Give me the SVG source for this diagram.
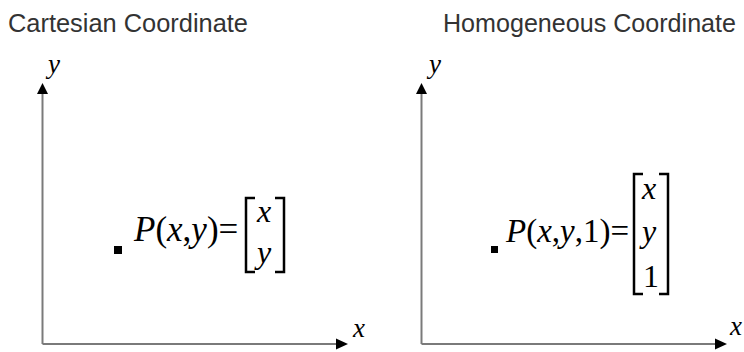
<svg xmlns="http://www.w3.org/2000/svg" width="744" height="352" viewBox="0 0 744 352">
<style>
.title{font-family:"Liberation Sans",Arial,sans-serif;font-size:25.5px;fill:#333333}
.m{font-family:"Liberation Serif","Times New Roman",serif;font-size:35px;fill:#000}
.m2{font-family:"Liberation Serif","Times New Roman",serif;font-size:33px;fill:#000}
.e{font-family:"Liberation Serif","Times New Roman",serif;font-size:32px;fill:#000}
.lab{font-family:"Liberation Serif","Times New Roman",serif;font-size:27px;font-style:italic;fill:#000}
.i{font-style:italic}
.axis{stroke:#7a7a7a;stroke-width:2;fill:none}
.head{fill:#000}
.br{stroke:#000;stroke-width:2.5;fill:none}
</style>
<rect width="744" height="352" fill="#fff"/>
<g id="title-cartesian"><text class="title" x="8" y="32" textLength="240" lengthAdjust="spacingAndGlyphs">Cartesian Coordinate</text></g>
<g id="title-homogeneous"><text class="title" x="443" y="32" textLength="293" lengthAdjust="spacingAndGlyphs">Homogeneous Coordinate</text></g>
<g id="connectors">
<line class="axis" x1="42.5" y1="92" x2="42.5" y2="344"/>
<polygon class="head" points="42.5,83 37,94 48,94"/>
<line class="axis" x1="42.5" y1="344" x2="338" y2="344"/>
<polygon class="head" points="348,344 336,338.5 336,349.5"/>
<line class="axis" x1="421.5" y1="92" x2="421.5" y2="344"/>
<polygon class="head" points="421.5,83 416,94 427,94"/>
<line class="axis" x1="421.5" y1="344" x2="717" y2="344"/>
<polygon class="head" points="727,344 715,338.5 715,349.5"/>
</g>
<g id="axis-labels-left">
<text class="lab" x="48" y="73">y</text>
<text class="lab" x="353" y="337">x</text>
</g>
<g id="axis-labels-right">
<text class="lab" x="429" y="73">y</text>
<text class="lab" x="730" y="335">x</text>
</g>
<g id="point-cartesian">
<rect x="114" y="246" width="8" height="8" fill="#000"/>
<text class="m" x="134" y="241"><tspan class="i">P</tspan>(<tspan class="i">x</tspan>,<tspan class="i">y</tspan>)=</text>
<path class="br" d="M255,198 H246 V272 H255 M275,198 H284 V272 H275"/>
<text class="e i" x="257" y="222">x</text>
<text class="e i" x="257" y="263">y</text>
</g>
<g id="point-homogeneous">
<rect x="491" y="246" width="7" height="7" fill="#000"/>
<text class="m2" x="506" y="242"><tspan class="i">P</tspan>(<tspan class="i">x</tspan>,<tspan class="i">y</tspan>,1)=</text>
<path class="br" d="M643,174 H634 V294 H643 M659,174 H668 V294 H659"/>
<text class="e i" x="642" y="199">x</text>
<text class="e i" x="642" y="242">y</text>
<text class="e" x="643" y="287">1</text>
</g>
</svg>
